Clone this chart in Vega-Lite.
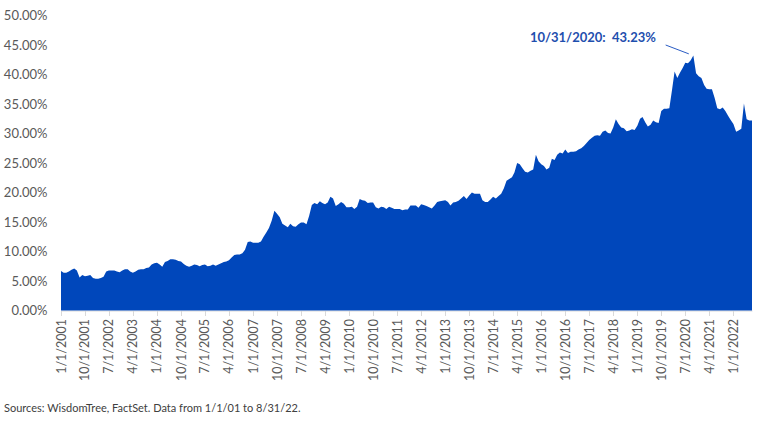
{
  "$schema": "https://vega.github.io/schema/vega-lite/v6.json",
  "width": 691,
  "height": 295,
  "autosize": "none",
  "padding": {"left": 61, "top": 15.5, "right": 13, "bottom": 110.5},
  "background": "white",
  "config": {"view": {"stroke": null}, "font": "Lato"},
  "title": {
    "text": "Sources: WisdomTree, FactSet. Data from 1/1/01 to 8/31/22.",
    "orient": "bottom",
    "anchor": "start",
    "frame": "group",
    "dx": -57,
    "offset": 22,
    "fontSize": 11,
    "fontWeight": "normal",
    "font": "Lato",
    "color": "#404040"
  },
  "datasets": {
    "series": [
      {"d":"2001-01-01","v":6.7},{"d":"2001-02-01","v":6.4},{"d":"2001-03-01","v":6.4},{"d":"2001-04-01","v":6.6},{"d":"2001-05-01","v":6.9},{"d":"2001-06-01","v":7.1},{"d":"2001-07-01","v":6.8},{"d":"2001-08-01","v":5.6},{"d":"2001-09-01","v":6.0},{"d":"2001-10-01","v":5.8},{"d":"2001-11-01","v":5.9},{"d":"2001-12-01","v":6.0},
      {"d":"2002-01-01","v":5.5},{"d":"2002-02-01","v":5.4},{"d":"2002-03-01","v":5.4},{"d":"2002-04-01","v":5.5},{"d":"2002-05-01","v":5.7},{"d":"2002-06-01","v":6.6},{"d":"2002-07-01","v":6.8},{"d":"2002-08-01","v":6.8},{"d":"2002-09-01","v":6.8},{"d":"2002-10-01","v":6.6},{"d":"2002-11-01","v":6.5},{"d":"2002-12-01","v":6.8},
      {"d":"2003-01-01","v":7.0},{"d":"2003-02-01","v":7.0},{"d":"2003-03-01","v":6.6},{"d":"2003-04-01","v":6.4},{"d":"2003-05-01","v":6.6},{"d":"2003-06-01","v":6.9},{"d":"2003-07-01","v":7.0},{"d":"2003-08-01","v":7.0},{"d":"2003-09-01","v":7.2},{"d":"2003-10-01","v":7.3},{"d":"2003-11-01","v":7.8},{"d":"2003-12-01","v":8.0},
      {"d":"2004-01-01","v":8.1},{"d":"2004-02-01","v":7.8},{"d":"2004-03-01","v":7.4},{"d":"2004-04-01","v":8.2},{"d":"2004-05-01","v":8.4},{"d":"2004-06-01","v":8.7},{"d":"2004-07-01","v":8.7},{"d":"2004-08-01","v":8.6},{"d":"2004-09-01","v":8.4},{"d":"2004-10-01","v":8.3},{"d":"2004-11-01","v":7.9},{"d":"2004-12-01","v":7.6},
      {"d":"2005-01-01","v":7.4},{"d":"2005-02-01","v":7.6},{"d":"2005-03-01","v":7.8},{"d":"2005-04-01","v":7.7},{"d":"2005-05-01","v":7.5},{"d":"2005-06-01","v":7.7},{"d":"2005-07-01","v":7.8},{"d":"2005-08-01","v":7.5},{"d":"2005-09-01","v":7.6},{"d":"2005-10-01","v":7.8},{"d":"2005-11-01","v":7.6},{"d":"2005-12-01","v":7.8},
      {"d":"2006-01-01","v":8.0},{"d":"2006-02-01","v":8.2},{"d":"2006-03-01","v":8.3},{"d":"2006-04-01","v":8.5},{"d":"2006-05-01","v":9.0},{"d":"2006-06-01","v":9.4},{"d":"2006-07-01","v":9.5},{"d":"2006-08-01","v":9.5},{"d":"2006-09-01","v":9.7},{"d":"2006-10-01","v":10.3},{"d":"2006-11-01","v":11.6},{"d":"2006-12-01","v":11.7},
      {"d":"2007-01-01","v":11.5},{"d":"2007-02-01","v":11.5},{"d":"2007-03-01","v":11.5},{"d":"2007-04-01","v":11.7},{"d":"2007-05-01","v":12.5},{"d":"2007-06-01","v":13.2},{"d":"2007-07-01","v":14.0},{"d":"2007-08-01","v":15.2},{"d":"2007-09-01","v":16.9},{"d":"2007-10-01","v":16.4},{"d":"2007-11-01","v":15.8},{"d":"2007-12-01","v":14.7},
      {"d":"2008-01-01","v":14.4},{"d":"2008-02-01","v":14.1},{"d":"2008-03-01","v":14.7},{"d":"2008-04-01","v":14.3},{"d":"2008-05-01","v":14.2},{"d":"2008-06-01","v":14.6},{"d":"2008-07-01","v":14.9},{"d":"2008-08-01","v":14.9},{"d":"2008-09-01","v":14.6},{"d":"2008-10-01","v":16.0},{"d":"2008-11-01","v":17.9},{"d":"2008-12-01","v":18.2},
      {"d":"2009-01-01","v":18.0},{"d":"2009-02-01","v":18.5},{"d":"2009-03-01","v":18.2},{"d":"2009-04-01","v":18.0},{"d":"2009-05-01","v":18.3},{"d":"2009-06-01","v":19.3},{"d":"2009-07-01","v":19.0},{"d":"2009-08-01","v":17.7},{"d":"2009-09-01","v":18.0},{"d":"2009-10-01","v":18.4},{"d":"2009-11-01","v":18.1},{"d":"2009-12-01","v":17.5},
      {"d":"2010-01-01","v":17.5},{"d":"2010-02-01","v":17.6},{"d":"2010-03-01","v":17.2},{"d":"2010-04-01","v":17.6},{"d":"2010-05-01","v":18.9},{"d":"2010-06-01","v":18.7},{"d":"2010-07-01","v":18.6},{"d":"2010-08-01","v":18.2},{"d":"2010-09-01","v":18.3},{"d":"2010-10-01","v":18.3},{"d":"2010-11-01","v":17.5},{"d":"2010-12-01","v":17.3},
      {"d":"2011-01-01","v":17.6},{"d":"2011-02-01","v":17.5},{"d":"2011-03-01","v":17.2},{"d":"2011-04-01","v":17.6},{"d":"2011-05-01","v":17.4},{"d":"2011-06-01","v":17.2},{"d":"2011-07-01","v":17.2},{"d":"2011-08-01","v":17.2},{"d":"2011-09-01","v":17.0},{"d":"2011-10-01","v":17.1},{"d":"2011-11-01","v":17.1},{"d":"2011-12-01","v":17.8},
      {"d":"2012-01-01","v":17.8},{"d":"2012-02-01","v":17.8},{"d":"2012-03-01","v":17.4},{"d":"2012-04-01","v":18.0},{"d":"2012-05-01","v":17.9},{"d":"2012-06-01","v":17.7},{"d":"2012-07-01","v":17.5},{"d":"2012-08-01","v":17.3},{"d":"2012-09-01","v":17.8},{"d":"2012-10-01","v":18.4},{"d":"2012-11-01","v":18.5},{"d":"2012-12-01","v":18.6},
      {"d":"2013-01-01","v":18.7},{"d":"2013-02-01","v":18.4},{"d":"2013-03-01","v":17.8},{"d":"2013-04-01","v":18.3},{"d":"2013-05-01","v":18.4},{"d":"2013-06-01","v":18.6},{"d":"2013-07-01","v":19.0},{"d":"2013-08-01","v":19.4},{"d":"2013-09-01","v":18.9},{"d":"2013-10-01","v":19.5},{"d":"2013-11-01","v":20.0},{"d":"2013-12-01","v":19.8},
      {"d":"2014-01-01","v":19.8},{"d":"2014-02-01","v":19.8},{"d":"2014-03-01","v":18.7},{"d":"2014-04-01","v":18.4},{"d":"2014-05-01","v":18.4},{"d":"2014-06-01","v":18.8},{"d":"2014-07-01","v":19.3},{"d":"2014-08-01","v":19.0},{"d":"2014-09-01","v":19.4},{"d":"2014-10-01","v":19.8},{"d":"2014-11-01","v":20.7},{"d":"2014-12-01","v":22.0},
      {"d":"2015-01-01","v":22.3},{"d":"2015-02-01","v":22.6},{"d":"2015-03-01","v":23.4},{"d":"2015-04-01","v":25.0},{"d":"2015-05-01","v":24.8},{"d":"2015-06-01","v":24.1},{"d":"2015-07-01","v":23.5},{"d":"2015-08-01","v":23.4},{"d":"2015-09-01","v":23.7},{"d":"2015-10-01","v":23.9},{"d":"2015-11-01","v":26.4},{"d":"2015-12-01","v":25.3},
      {"d":"2016-01-01","v":24.8},{"d":"2016-02-01","v":24.5},{"d":"2016-03-01","v":23.9},{"d":"2016-04-01","v":24.2},{"d":"2016-05-01","v":25.7},{"d":"2016-06-01","v":25.5},{"d":"2016-07-01","v":26.4},{"d":"2016-08-01","v":26.8},{"d":"2016-09-01","v":26.6},{"d":"2016-10-01","v":27.3},{"d":"2016-11-01","v":26.7},{"d":"2016-12-01","v":26.9},
      {"d":"2017-01-01","v":26.9},{"d":"2017-02-01","v":27.0},{"d":"2017-03-01","v":27.3},{"d":"2017-04-01","v":27.5},{"d":"2017-05-01","v":27.9},{"d":"2017-06-01","v":28.4},{"d":"2017-07-01","v":28.9},{"d":"2017-08-01","v":29.3},{"d":"2017-09-01","v":29.6},{"d":"2017-10-01","v":29.7},{"d":"2017-11-01","v":29.6},{"d":"2017-12-01","v":30.3},
      {"d":"2018-01-01","v":30.5},{"d":"2018-02-01","v":30.1},{"d":"2018-03-01","v":30.0},{"d":"2018-04-01","v":31.0},{"d":"2018-05-01","v":32.4},{"d":"2018-06-01","v":31.6},{"d":"2018-07-01","v":31.0},{"d":"2018-08-01","v":30.9},{"d":"2018-09-01","v":30.4},{"d":"2018-10-01","v":30.5},{"d":"2018-11-01","v":30.7},{"d":"2018-12-01","v":30.6},
      {"d":"2019-01-01","v":31.3},{"d":"2019-02-01","v":32.5},{"d":"2019-03-01","v":32.8},{"d":"2019-04-01","v":31.9},{"d":"2019-05-01","v":31.2},{"d":"2019-06-01","v":31.5},{"d":"2019-07-01","v":32.2},{"d":"2019-08-01","v":31.9},{"d":"2019-09-01","v":31.8},{"d":"2019-10-01","v":33.8},{"d":"2019-11-01","v":34.2},{"d":"2019-12-01","v":34.2},
      {"d":"2020-01-01","v":34.3},{"d":"2020-02-01","v":37.4},{"d":"2020-03-01","v":40.5},{"d":"2020-04-01","v":39.4},{"d":"2020-05-01","v":40.3},{"d":"2020-06-01","v":41.1},{"d":"2020-07-01","v":42.0},{"d":"2020-08-01","v":41.9},{"d":"2020-09-01","v":42.4},{"d":"2020-10-01","v":43.23},{"d":"2020-11-01","v":40.2},{"d":"2020-12-01","v":39.7},
      {"d":"2021-01-01","v":39.4},{"d":"2021-02-01","v":38.2},{"d":"2021-03-01","v":37.6},{"d":"2021-04-01","v":37.5},{"d":"2021-05-01","v":37.5},{"d":"2021-06-01","v":36.0},{"d":"2021-07-01","v":34.3},{"d":"2021-08-01","v":34.1},{"d":"2021-09-01","v":34.4},{"d":"2021-10-01","v":33.8},{"d":"2021-11-01","v":33.0},{"d":"2021-12-01","v":32.3},
      {"d":"2022-01-01","v":31.6},{"d":"2022-02-01","v":30.3},{"d":"2022-03-01","v":30.5},{"d":"2022-04-01","v":30.8},{"d":"2022-05-01","v":35.1},{"d":"2022-06-01","v":32.4},{"d":"2022-07-01","v":32.2},{"d":"2022-08-01","v":32.2}
    ],
    "note": [
      {"d":"2019-08-01","v":46.2,"t":"10/31/2020:\u00a0 43.23%"}
    ],
    "leader": [
      {"d":"2019-11-20","v":45.0,"d2":"2020-08-10","v2":43.5}
    ]
  },
  "encoding": {
    "x": {
      "field": "d",
      "type": "temporal",
      "scale": {"type": "utc", "domain": [{"year":2001,"month":1,"date":1,"utc":true},{"year":2022,"month":8,"date":1,"utc":true}], "nice": false},
      "axis": {
        "title": null,
        "values": [
          {"year":2001,"month":1,"date":1,"utc":true},{"year":2001,"month":10,"date":1,"utc":true},{"year":2002,"month":7,"date":1,"utc":true},{"year":2003,"month":4,"date":1,"utc":true},
          {"year":2004,"month":1,"date":1,"utc":true},{"year":2004,"month":10,"date":1,"utc":true},{"year":2005,"month":7,"date":1,"utc":true},{"year":2006,"month":4,"date":1,"utc":true},
          {"year":2007,"month":1,"date":1,"utc":true},{"year":2007,"month":10,"date":1,"utc":true},{"year":2008,"month":7,"date":1,"utc":true},{"year":2009,"month":4,"date":1,"utc":true},
          {"year":2010,"month":1,"date":1,"utc":true},{"year":2010,"month":10,"date":1,"utc":true},{"year":2011,"month":7,"date":1,"utc":true},{"year":2012,"month":4,"date":1,"utc":true},
          {"year":2013,"month":1,"date":1,"utc":true},{"year":2013,"month":10,"date":1,"utc":true},{"year":2014,"month":7,"date":1,"utc":true},{"year":2015,"month":4,"date":1,"utc":true},
          {"year":2016,"month":1,"date":1,"utc":true},{"year":2016,"month":10,"date":1,"utc":true},{"year":2017,"month":7,"date":1,"utc":true},{"year":2018,"month":4,"date":1,"utc":true},
          {"year":2019,"month":1,"date":1,"utc":true},{"year":2019,"month":10,"date":1,"utc":true},{"year":2020,"month":7,"date":1,"utc":true},{"year":2021,"month":4,"date":1,"utc":true},
          {"year":2022,"month":1,"date":1,"utc":true}
        ],
        "labelExpr": "utcFormat(datum.value, '%-m/%-d/%Y')",
        "labelAngle": -90,
        "labelAlign": "right",
        "labelBaseline": "middle",
        "labelFont": "Lato",
        "labelFontSize": 12.5,
        "labelColor": "#595959",
        "labelPadding": 3,
        "labelOverlap": false,
        "labelFlush": false,
        "domainColor": "#d9d9d9",
        "domainWidth": 1,
        "tickColor": "#d9d9d9",
        "tickSize": 5,
        "grid": false
      }
    },
    "y": {
      "field": "v",
      "type": "quantitative",
      "scale": {"domain": [0, 50], "nice": false},
      "axis": {
        "title": null,
        "values": [0, 5, 10, 15, 20, 25, 30, 35, 40, 45, 50],
        "labelExpr": "format(datum.value, '.2f') + '%'",
        "labelFont": "Lato",
        "labelFontSize": 13,
        "labelColor": "#595959",
        "labelPadding": 14,
        "labelOverlap": false,
        "domain": false,
        "ticks": false,
        "grid": false
      }
    }
  },
  "layer": [
    {
      "data": {"name": "series"},
      "mark": {"type": "area", "color": "#0047BB", "interpolate": "linear"}
    },
    {
      "data": {"name": "leader"},
      "mark": {"type": "rule", "color": "#2a5cc4", "strokeWidth": 1},
      "encoding": {
        "x2": {"field": "d2"},
        "y2": {"field": "v2"}
      }
    },
    {
      "data": {"name": "note"},
      "mark": {"type": "text", "align": "right", "baseline": "middle", "font": "Lato", "fontSize": 13, "fontWeight": "bold", "color": "#1F4FAE"},
      "encoding": {
        "text": {"field": "t"}
      }
    }
  ]
}
